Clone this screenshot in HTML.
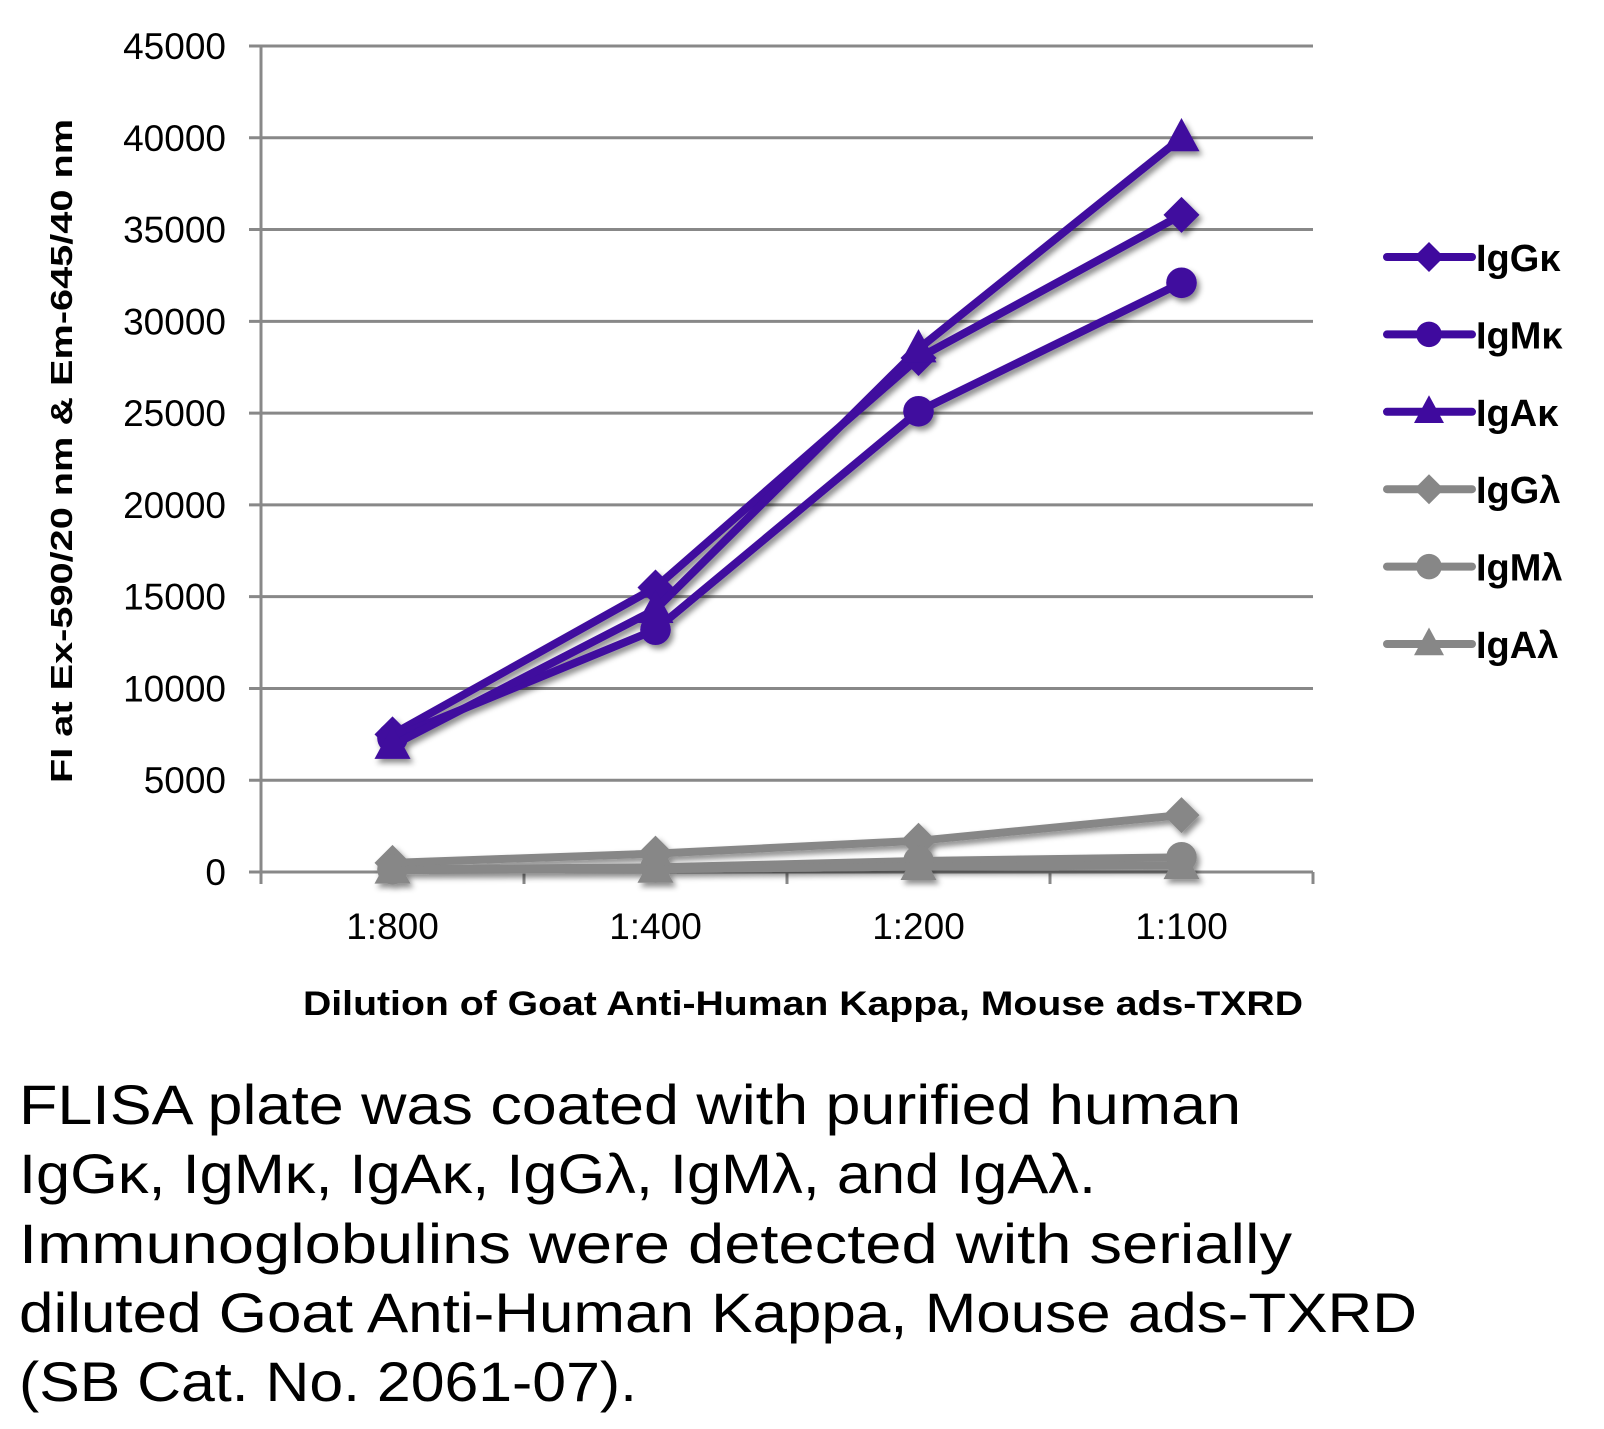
<!DOCTYPE html>
<html><head><meta charset="utf-8"><style>
html,body{margin:0;padding:0;background:#fff;}
svg{display:block;font-family:"Liberation Sans","DejaVu Sans",sans-serif;}
</style></head><body>
<svg id="chart" width="1604" height="1429" viewBox="0 0 1604 1429" xmlns="http://www.w3.org/2000/svg">
<defs>
<filter id="sh" x="-30%" y="-30%" width="160%" height="160%"><feDropShadow dx="3" dy="4" stdDeviation="3" flood-color="#000" flood-opacity="0.45"/></filter>
</defs>
<g id="grid"></g>
<g id="axes"></g>
<g id="series" filter="url(#sh)"></g>
<g id="legend"></g>
<text x="0" y="0" transform="translate(72,451) rotate(-90)" text-anchor="middle" font-weight="bold" font-size="31" textLength="664" lengthAdjust="spacingAndGlyphs">FI at Ex-590/20 nm &amp; Em-645/40 nm</text>
<text x="803" y="1015" text-anchor="middle" font-weight="bold" font-size="34" textLength="1000" lengthAdjust="spacingAndGlyphs">Dilution of Goat Anti-Human Kappa, Mouse ads-TXRD</text>
<g font-size="56" fill="#000">
<text x="19" y="1124" textLength="1222" lengthAdjust="spacingAndGlyphs">FLISA plate was coated with purified human</text>
<text x="19" y="1193" textLength="1077" lengthAdjust="spacingAndGlyphs">IgGκ, IgMκ, IgAκ, IgGλ, IgMλ, and IgAλ.</text>
<text x="19" y="1263" textLength="1273" lengthAdjust="spacingAndGlyphs">Immunoglobulins were detected with serially</text>
<text x="19" y="1332" textLength="1398" lengthAdjust="spacingAndGlyphs">diluted Goat Anti-Human Kappa, Mouse ads-TXRD</text>
<text x="19" y="1401" textLength="618" lengthAdjust="spacingAndGlyphs">(SB Cat. No. 2061-07).</text>
</g>
</svg>
<script>
const categories = ["1:800","1:400","1:200","1:100"];
const yTicks = [0,5000,10000,15000,20000,25000,30000,35000,40000,45000];
const seriesNames = ["IgGκ","IgMκ","IgAκ","IgGλ","IgMλ","IgAλ"];
const igGk = [7500,15500,28000,35800];
const igMk = [7300,13200,25100,32100];
const igAk = [6900,14300,28500,40000];
const igGl = [500,1000,1700,3100];
const igMl = [150,250,600,800];
const igAl = [100,150,300,350];

const NS="http://www.w3.org/2000/svg";
const X0=261, X1=1313, Y0=872, Y1=46, YMAX=45000;
const band=(X1-X0)/categories.length;
const xs=i=>X0+band*(i+0.5);
const ys=v=>Y0-(v/YMAX)*(Y0-Y1);
function mk(tag,attrs,parent){const e=document.createElementNS(NS,tag);for(const k in attrs)e.setAttribute(k,attrs[k]);parent.appendChild(e);return e;}
const grid=document.getElementById('grid'), axes=document.getElementById('axes'), ser=document.getElementById('series'), leg=document.getElementById('legend');

yTicks.forEach(t=>{
  const l=mk('line',{x1:X0-12,x2:X1,y1:ys(t),y2:ys(t),stroke:'#888','stroke-width':3},grid);
  
  
  const tx=mk('text',{x:226,y:ys(t)+13,'text-anchor':'end','font-size':37},axes);
  tx.textContent=t;
  
  
});
const ya=mk('line',{x1:X0,x2:X0,y1:Y1,y2:Y0+12,stroke:'#888','stroke-width':3},axes);


for(let i=0;i<=categories.length;i++){
  const tk=mk('line',{x1:X0+band*i,x2:X0+band*i,y1:Y0,y2:Y0+12,stroke:'#888','stroke-width':3},axes);
  
  
}
categories.forEach((c,i)=>{
  const tx=mk('text',{x:xs(i),y:939,'text-anchor':'middle','font-size':37},axes);
  tx.textContent=c;
  
  
});

const PURPLE='#3f0a9e', GREY='#878787';
const defs=[[igGl,GREY,'diamond'],[igMl,GREY,'circle'],[igAl,GREY,'triangle'],[igGk,PURPLE,'diamond'],[igMk,PURPLE,'circle'],[igAk,PURPLE,'triangle']];
const names=["IgGλ","IgMλ","IgAλ","IgGκ","IgMκ","IgAκ"];
function marker(type,x,y,col,r,parent){
  let m;
  if(type==='diamond') m=mk('polygon',{points:`${x},${y-r} ${x+r},${y} ${x},${y+r} ${x-r},${y}`,fill:col},parent);
  else if(type==='circle') m=mk('circle',{cx:x,cy:y,r:r*0.85,fill:col},parent);
  else m=mk('polygon',{points:`${x},${y-r*1.1} ${x+r},${y+r*0.75} ${x-r},${y+r*0.75}`,fill:col},parent);
  return m;
}
defs.forEach(([vals,col,type],k)=>{
  const g=mk('g',{},ser);
  
  
  const p=mk('polyline',{points:vals.map((v,i)=>xs(i)+','+ys(v)).join(' '),fill:'none',stroke:col,'stroke-width':8,'stroke-linejoin':'round'},g);
  
  
  vals.forEach((v,i)=>{
    const m=marker(type,xs(i),ys(v),col,18,g);
    
    
  });
});

const legDefs=[[PURPLE,'diamond'],[PURPLE,'circle'],[PURPLE,'triangle'],[GREY,'diamond'],[GREY,'circle'],[GREY,'triangle']];
seriesNames.forEach((n,k)=>{
  const y=257+k*77.4;
  const g=mk('g',{},leg);
  
  
  mk('line',{x1:1387,x2:1472,y1:y,y2:y,stroke:legDefs[k][0],'stroke-width':8,'stroke-linecap':'round'},g);
  marker(legDefs[k][1],1429,y,legDefs[k][0],15,g);
  const t=mk('text',{x:1476,y:y+14,'font-size':38,'font-weight':'bold'},g);
  t.textContent=n;
});
</script>
</body></html>
